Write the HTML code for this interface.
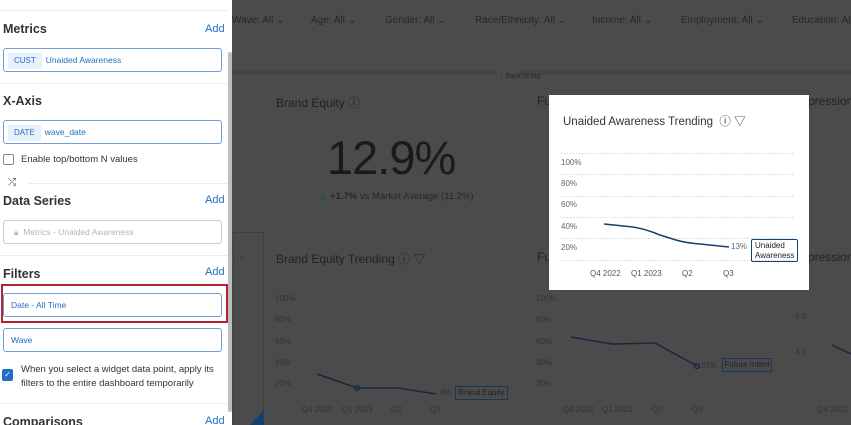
<!DOCTYPE html>
<html><head><meta charset="utf-8"><style>
*{margin:0;padding:0;box-sizing:border-box}
html,body{width:851px;height:425px;overflow:hidden}
body{background:#4b4b4b;font-family:"Liberation Sans",sans-serif;position:relative}
.a{position:absolute;white-space:nowrap}
.d{color:#222}
.t{color:#333;font-size:8px}
.f{color:#272727;font-size:10px;top:15px}
.p{position:absolute;left:0;top:0;width:232px;height:425px;background:#fff;overflow:hidden}
.h{font-weight:bold;font-size:12.5px;color:#333}
.add{color:#1f6fc4;font-size:11px;left:205px}
.box{position:absolute;left:3px;width:219px;height:24px;border:1px solid #6f9fd8;border-radius:3px;font-size:8.5px;color:#1f6fc4;line-height:22px}
.sep{position:absolute;left:0;width:228px;height:1px;background:#ececec}
</style></head><body>
<div class="a f" style="left:232px">Wave: All ⌄</div>
<div class="a f" style="left:311px">Age: All ⌄</div>
<div class="a f" style="left:385px">Gender: All ⌄</div>
<div class="a f" style="left:475px">Race/Ethnicity: All ⌄</div>
<div class="a f" style="left:592px">Income: All ⌄</div>
<div class="a f" style="left:681px">Employment: All ⌄</div>
<div class="a f" style="left:792px">Education: All</div>
<div class="a" style="left:232px;top:70px;width:265px;height:5px;background:#444"></div>
<div class="a" style="left:520px;top:70px;width:331px;height:5px;background:#444"></div>
<div class="a" style="left:500px;top:73px;font-size:7px;color:#272727">↑ Back to top</div>
<div class="a d" style="left:276px;top:94px;font-size:12px">Brand Equity ⓘ</div>
<div class="a d" style="left:537px;top:94px;font-size:12px">Fu</div>
<div class="a d" style="left:808px;top:94px;font-size:12px">pression</div>
<div class="a" style="left:327px;top:130px;font-size:47px;color:#1a1a1a;letter-spacing:-1px">12.9%</div>
<div class="a" style="left:318px;top:191px;font-size:9.5px;color:#282828"><span style="color:#1f5a2c">▲</span> <b>+1.7%</b> vs Market Average (11.2%)</div>
<div class="a" style="left:233px;top:232px;width:31px;height:200px;border-left:1px solid #3f3f3f;border-top:1px solid #3f3f3f;border-right:1px solid #3f3f3f"></div>
<div class="a d" style="left:236px;top:250px;font-size:10px">…</div>
<div class="a" style="left:250px;top:410px;width:0;height:0;border-left:14px solid transparent;border-bottom:15px solid #15406e"></div>
<div class="a d" style="left:276px;top:250px;font-size:12px">Brand Equity Trending ⓘ ▽</div>
<div class="a d" style="left:537px;top:250px;font-size:12px">Fu</div>
<div class="a d" style="left:808px;top:250px;font-size:12px">pression</div>
<div class="a t" style="left:275px;top:294px">100%</div><div class="a t" style="left:275px;top:315px">80%</div><div class="a t" style="left:275px;top:337px">60%</div><div class="a t" style="left:275px;top:358px">40%</div><div class="a t" style="left:275px;top:379px">20%</div>
<div class="a t" style="left:302px;top:405px">Q4 2022</div><div class="a t" style="left:342px;top:405px">Q1 2023</div><div class="a t" style="left:391px;top:405px">Q2</div><div class="a t" style="left:430px;top:405px">Q3</div>
<div class="a t" style="left:536px;top:294px">100%</div><div class="a t" style="left:536px;top:315px">80%</div><div class="a t" style="left:536px;top:337px">60%</div><div class="a t" style="left:536px;top:358px">40%</div><div class="a t" style="left:536px;top:379px">20%</div>
<div class="a t" style="left:563px;top:405px">Q4 2022</div><div class="a t" style="left:602px;top:405px">Q1 2023</div><div class="a t" style="left:652px;top:405px">Q2</div><div class="a t" style="left:692px;top:405px">Q3</div>
<div class="a t" style="left:795px;top:312px">6.0</div><div class="a t" style="left:795px;top:348px">4.0</div><div class="a t" style="left:817px;top:405px">Q4 2022</div>
<div class="a t" style="left:440px;top:388px">4%</div>
<div class="a" style="left:455px;top:386px;width:53px;height:14px;border:1px solid #17365c;font-size:8px;color:#222;line-height:12px;text-align:center">Brand Equity</div>
<div class="a t" style="left:701px;top:361px">31%</div>
<div class="a" style="left:722px;top:358px;width:50px;height:14px;border:1px solid #17365c;font-size:8px;color:#222;line-height:12px;text-align:center">Future Intent</div>
<svg class="a" style="left:0;top:0" width="851" height="425">
<polyline points="317,374 357,388 398,388 436,394" fill="none" stroke="#17283d" stroke-width="1.5"/>
<circle cx="357" cy="388" r="2.5" fill="none" stroke="#17283d" stroke-width="1.3"/>
<polyline points="571,337 612,344 655,343 697,366" fill="none" stroke="#17283d" stroke-width="1.5"/>
<circle cx="697" cy="366" r="2.5" fill="none" stroke="#17283d" stroke-width="1.3"/>
<polyline points="832,345 851,354" fill="none" stroke="#17283d" stroke-width="1.5"/>
</svg>
<div class="a" style="left:549px;top:95px;width:260px;height:195px;background:#fff"></div>
<div class="a" style="left:563px;top:113px;font-size:11.5px;color:#333">Unaided Awareness Trending &nbsp;ⓘ ▽</div>
<svg class="a" style="left:0;top:0" width="851" height="425">
<g stroke="#d8d8d8" stroke-dasharray="1.5,1.5">
<line x1="561" x2="795" y1="153.5" y2="153.5"/><line x1="561" x2="795" y1="174.5" y2="174.5"/><line x1="561" x2="795" y1="196.5" y2="196.5"/><line x1="561" x2="795" y1="217.5" y2="217.5"/><line x1="561" x2="795" y1="238.5" y2="238.5"/><line x1="561" x2="795" y1="260.5" y2="260.5"/>
</g>
<path d="M604,224 L633,227 Q646,229 660,235 L676,240 Q686,243 700,244 L729,247" fill="none" stroke="#15406e" stroke-width="1.5"/>
</svg>
<div class="a t" style="left:561px;top:158px;color:#666">100%</div><div class="a t" style="left:561px;top:179px;color:#666">80%</div><div class="a t" style="left:561px;top:200px;color:#666">60%</div><div class="a t" style="left:561px;top:222px;color:#666">40%</div><div class="a t" style="left:561px;top:243px;color:#666">20%</div>
<div class="a t" style="left:590px;top:269px;color:#555">Q4 2022</div><div class="a t" style="left:631px;top:269px;color:#555">Q1 2023</div><div class="a t" style="left:682px;top:269px;color:#555">Q2</div><div class="a t" style="left:723px;top:269px;color:#555">Q3</div>
<div class="a t" style="left:731px;top:242px;color:#666">13%</div>
<div class="a" style="left:751px;top:239px;width:47px;height:23px;border:1px solid #15406e;border-radius:2px;font-size:8px;color:#222;line-height:10px;padding:1px 3px">Unaided<br>Awareness</div>
<div class="p">
<div class="sep" style="top:10px"></div>
<div class="a h" style="left:3px;top:22px">Metrics</div><div class="a add" style="top:23px">Add</div>
<div class="box" style="top:48px"><span style="display:inline-block;background:#e8f1fb;color:#1f6fc4;padding:0 6px;margin:0 4px 0 4px;line-height:16px;font-size:8px">CUST</span>Unaided Awareness</div>
<div class="sep" style="top:83px"></div>
<div class="a h" style="left:3px;top:94px">X-Axis</div>
<div class="box" style="top:120px"><span style="display:inline-block;background:#e8f1fb;color:#1f6fc4;padding:0 6px;margin:0 4px 0 4px;line-height:16px;font-size:8px">DATE</span>wave_date</div>
<div class="a" style="left:3px;top:154px;width:11px;height:11px;border:1px solid #888;border-radius:2px"></div>
<div class="a" style="left:21px;top:154px;font-size:9.5px;color:#333">Enable top/bottom N values</div>
<div class="a" style="left:8px;top:177px;font-size:10px;color:#444">⤮</div>
<div class="sep" style="top:183px;left:28px;width:200px"></div>
<div class="a h" style="left:3px;top:194px">Data Series</div><div class="a add" style="top:194px">Add</div>
<div class="box" style="top:220px;border-color:#ccc;color:#b5b5b5;padding-left:10px">🔒︎ &nbsp;Metrics - Unaided Awareness</div>
<div class="sep" style="top:255px"></div>
<div class="a h" style="left:3px;top:267px">Filters</div><div class="a add" style="top:266px">Add</div>
<div class="a" style="left:1px;top:284px;width:227px;height:39px;border:2px solid #b0262f"></div>
<div class="box" style="top:293px;padding-left:7px">Date - All Time</div>
<div class="box" style="top:328px;padding-left:7px">Wave</div>
<div class="a" style="left:2px;top:369px;width:11px;height:12px;background:#1f6fc4;border-radius:2px;color:#fff;font-size:8px;text-align:center;line-height:12px">✓</div>
<div class="a" style="left:21px;top:363px;font-size:9.5px;color:#333;line-height:14px">When you select a widget data point, apply its<br>filters to the entire dashboard temporarily</div>
<div class="sep" style="top:403px"></div>
<div class="a h" style="left:3px;top:415px">Comparisons</div><div class="a add" style="top:415px">Add</div>
<div class="a" style="left:228px;top:52px;width:4px;height:360px;background:#bdbdbd;border-radius:2px"></div>
</div>
</body></html>
